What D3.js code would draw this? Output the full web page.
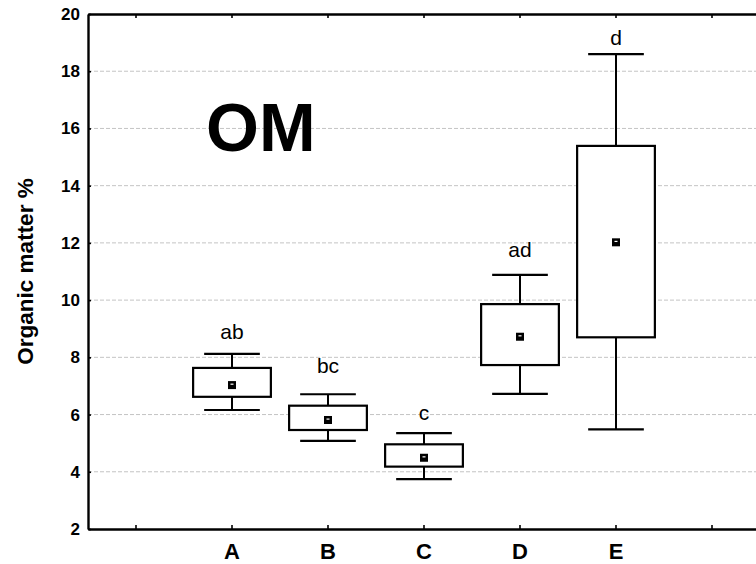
<!DOCTYPE html>
<html>
<head>
<meta charset="utf-8">
<script src="https://cdn.jsdelivr.net/npm/d3@7"></script>
<style>
  html, body { margin: 0; padding: 0; background: #fff; }
  svg { display: block; font-family: "Liberation Sans", Arial, sans-serif; }
</style>
</head>
<body>
<svg id="chart" width="756" height="564"></svg>
<script>
// Organic matter (%) per site: mean, box (inner range) and whiskers (outer range)
const categories  = ["A", "B", "C", "D", "E"];
const whiskerLow  = [6.16, 5.08, 3.74, 6.72, 5.48];
const boxLow      = [6.62, 5.46, 4.18, 7.73, 8.70];
const means       = [7.03, 5.81, 4.49, 8.72, 12.02];
const boxHigh     = [7.63, 6.31, 4.96, 9.86, 15.39];
const whiskerHigh = [8.12, 6.71, 5.35, 10.88, 18.60];
const groupLetters = ["ab", "bc", "c", "ad", "d"];
const yTicks = [2, 4, 6, 8, 10, 12, 14, 16, 18, 20];
const chartTitle = "OM";
const yTitle = "Organic matter %";

// layout: pixel lift of each letter above its upper whisker
const letterLift = [15, 21, 13, 18, 9];

const svg = d3.select("#chart");
const plotLeft = 88, plotRight = 760, plotTop = 14, plotBottom = 529;

// one empty slot on each side of the five groups
const slots = ["pad0", ...categories, "pad1"];
const x = d3.scaleBand().domain(slots).range([plotLeft, plotRight]).paddingInner(0).paddingOuter(0);
const cx = d => x(d) + x.bandwidth() / 2;
const y = d3.scaleLinear().domain([2, 20]).range([plotBottom, plotTop]);

const boxW = x.bandwidth() * 0.81;
const capW = x.bandwidth() * 0.58;

// dashed horizontal grid
svg.append("g")
  .selectAll("line")
  .data(yTicks.filter(t => t > 2 && t < 20))
  .join("line")
  .attr("x1", plotLeft).attr("x2", plotRight)
  .attr("y1", d => y(d)).attr("y2", d => y(d))
  .attr("stroke", "#c4c4c4")
  .attr("stroke-width", 1)
  .attr("stroke-dasharray", "4,2");

// frame with inward ticks
const frameStyle = g => {
  g.select(".domain").attr("stroke", "#000").attr("stroke-width", 2.4);
  g.selectAll(".tick line").attr("stroke", "#000").attr("stroke-width", 1.6);
};

svg.append("g")
  .attr("transform", `translate(0,${plotBottom})`)
  .call(d3.axisBottom(x).tickSizeInner(-4).tickSizeOuter(0)
    .tickFormat(d => categories.includes(d) ? d : ""))
  .call(frameStyle)
  .call(g => g.selectAll(".tick text")
    .attr("dy", 0).attr("y", 30)
    .attr("fill", "#000")
    .style("font-size", "22px").style("font-weight", "bold")
    .style("font-family", "'Liberation Sans', Arial, sans-serif"));

svg.append("g")
  .attr("transform", `translate(0,${plotTop})`)
  .call(d3.axisTop(x).tickSizeInner(-4).tickSizeOuter(0).tickFormat(""))
  .call(frameStyle);

svg.append("g")
  .attr("transform", `translate(${plotLeft},0)`)
  .call(d3.axisLeft(y).tickValues(yTicks).tickSizeInner(-3).tickSizeOuter(0).tickPadding(8)
    .tickFormat(d3.format("d")))
  .call(frameStyle)
  .call(g => g.selectAll(".tick text")
    .attr("fill", "#000")
    .style("font-size", "17px").style("font-weight", "bold")
    .style("font-family", "'Liberation Sans', Arial, sans-serif"));

svg.append("g")
  .attr("transform", `translate(${plotRight},0)`)
  .call(d3.axisRight(y).tickValues(yTicks).tickSizeInner(-3).tickSizeOuter(0).tickFormat(""))
  .call(frameStyle);

// boxes
const rows = categories.map((c, i) => ({
  c, lo: whiskerLow[i], q1: boxLow[i], m: means[i], q3: boxHigh[i], hi: whiskerHigh[i],
  letter: groupLetters[i], lift: letterLift[i]
}));

const g = svg.append("g").selectAll("g").data(rows).join("g");

g.append("line")
  .attr("x1", d => cx(d.c)).attr("x2", d => cx(d.c))
  .attr("y1", d => y(d.lo)).attr("y2", d => y(d.hi))
  .attr("stroke", "#000").attr("stroke-width", 2);

g.selectAll("line.cap")
  .data(d => [d.lo, d.hi].map(v => ({ c: d.c, v })))
  .join("line")
  .attr("class", "cap")
  .attr("x1", d => cx(d.c) - capW / 2).attr("x2", d => cx(d.c) + capW / 2)
  .attr("y1", d => y(d.v)).attr("y2", d => y(d.v))
  .attr("stroke", "#000").attr("stroke-width", 2.2);

g.append("rect")
  .attr("x", d => cx(d.c) - boxW / 2)
  .attr("width", boxW)
  .attr("y", d => y(d.q3))
  .attr("height", d => y(d.q1) - y(d.q3))
  .attr("fill", "#fff")
  .attr("stroke", "#000").attr("stroke-width", 2.2);

// mean marker: filled square with a small light notch
g.append("rect")
  .attr("x", d => cx(d.c) - 4).attr("y", d => y(d.m) - 4)
  .attr("width", 8).attr("height", 8)
  .attr("fill", "#000");
g.append("rect")
  .attr("x", d => cx(d.c) - 1.5).attr("y", d => y(d.m) - 1.5)
  .attr("width", 3).attr("height", 1.2)
  .attr("fill", "#fff");

// significance letters
g.append("text")
  .attr("x", d => cx(d.c))
  .attr("y", d => y(d.hi) - d.lift)
  .attr("text-anchor", "middle")
  .style("font-size", "21px")
  .attr("fill", "#000")
  .text(d => d.letter);

// panel title
svg.append("text")
  .attr("x", 206).attr("y", 151)
  .style("font-size", "68px").style("font-weight", "bold")
  .attr("fill", "#000")
  .text(chartTitle);

// y axis title
svg.append("text")
  .attr("transform", `translate(33,${(plotTop + plotBottom) / 2}) rotate(-90)`)
  .attr("text-anchor", "middle")
  .style("font-size", "22.5px").style("font-weight", "bold")
  .attr("fill", "#000")
  .text(yTitle);
</script>
</body>
</html>
